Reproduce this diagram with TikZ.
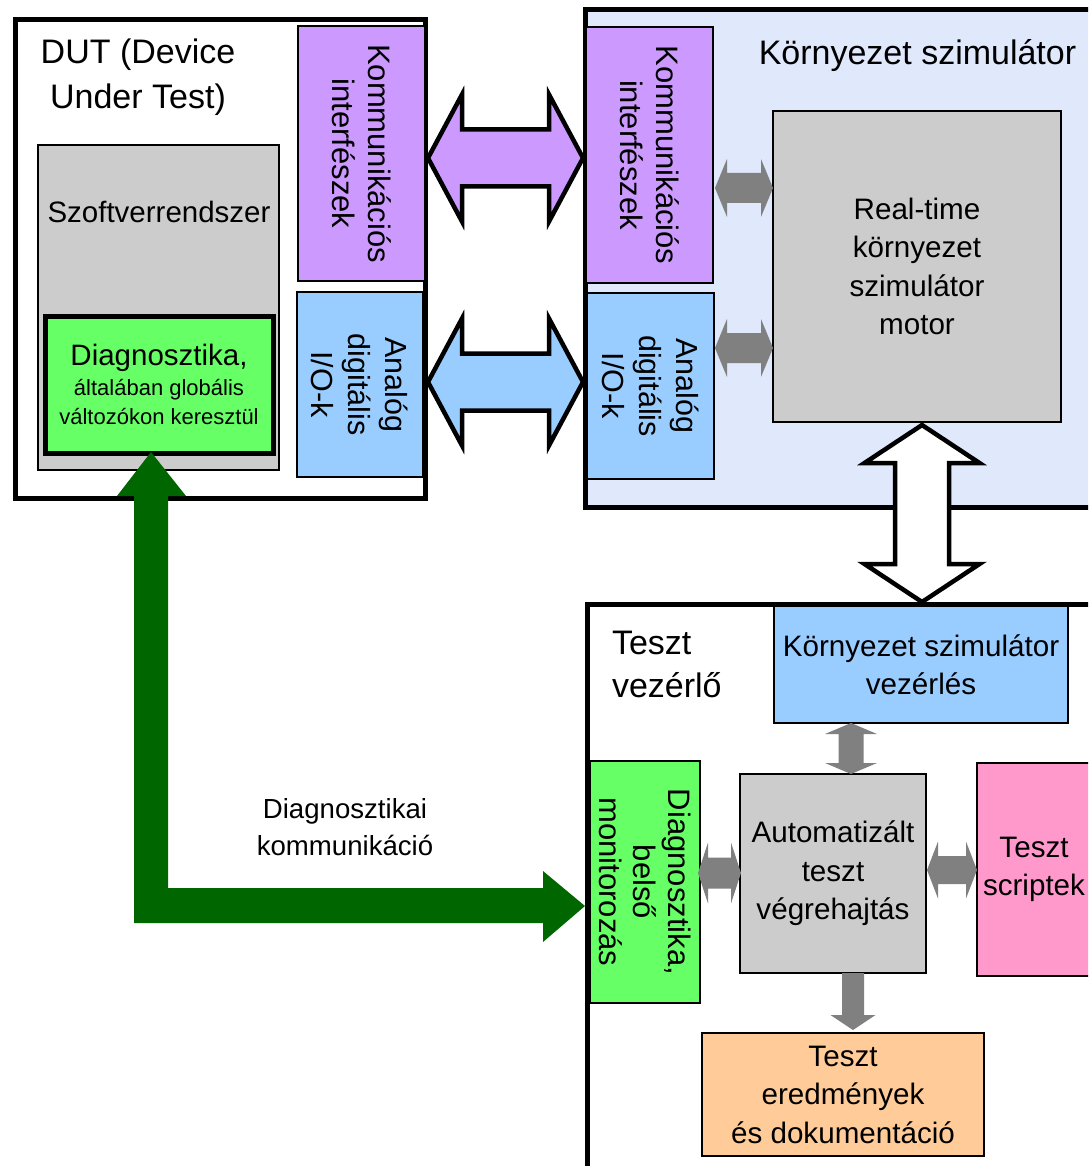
\documentclass[tikz,border=0pt]{standalone}
\usepackage{fontspec}
\setmainfont{Liberation Sans}
\usetikzlibrary{calc}

\definecolor{purp}{HTML}{CC99FF}
\definecolor{skyb}{HTML}{99CCFF}
\definecolor{lgreen}{HTML}{66FF66}
\definecolor{boxgray}{HTML}{CCCCCC}
\definecolor{arrgray}{HTML}{808080}
\definecolor{envbg}{HTML}{E0E8FC}
\definecolor{pinkb}{HTML}{FF99CC}
\definecolor{orangeb}{HTML}{FFCC99}
\definecolor{dgreen}{HTML}{006600}

\newcommand\fsz[2]{\fontsize{#1}{#2}\selectfont}

% fat double-headed arrow from #2 to #3
% #4 head length, #5 head half width, #6 shaft half width
\newcommand\fatdouble[6]{%
  \path[#1] (#2)
    -- ($(#2)!#4!(#3)!#5!90:(#3)$) -- ($(#2)!#4!(#3)!#6!90:(#3)$)
    -- ($(#3)!#4!(#2)!#6!-90:(#2)$) -- ($(#3)!#4!(#2)!#5!-90:(#2)$)
    -- (#3)
    -- ($(#3)!#4!(#2)!#5!90:(#2)$) -- ($(#3)!#4!(#2)!#6!90:(#2)$)
    -- ($(#2)!#4!(#3)!#6!-90:(#3)$) -- ($(#2)!#4!(#3)!#5!-90:(#3)$)
    -- cycle;}
% fat single-headed arrow from tail #2 to tip #3
\newcommand\fatsingle[6]{%
  \path[#1] ($(#2)!#6!90:(#3)$)
    -- ($(#3)!#4!(#2)!#6!-90:(#2)$) -- ($(#3)!#4!(#2)!#5!-90:(#2)$)
    -- (#3)
    -- ($(#3)!#4!(#2)!#5!90:(#2)$) -- ($(#3)!#4!(#2)!#6!90:(#2)$)
    -- ($(#2)!#6!-90:(#3)$) -- cycle;}

\tikzset{
  box/.style={draw=black, line width=2.5pt, outer sep=0pt, inner sep=0pt, align=center,
    font=\fsz{29.6}{38.5}},
  frame/.style={draw=black, line width=5pt, outer sep=0pt, inner sep=0pt},
  vtext/.style={rotate=-90, font=\fsz{31}{36}},
  txt/.style={inner sep=0pt, outer sep=0pt},
  bigarrow/.style={draw=black, line width=4.5pt, line join=miter},
  grayarrow/.style={fill=arrgray},
}

\begin{document}
\begin{tikzpicture}[x=1pt,y=-1pt]
\useasboundingbox (0,0) rectangle (1088,1166);
\clip (0,0) rectangle (1088,1166);

% outer frames
\node[frame, fill=envbg, minimum width=514.5pt, minimum height=498pt] (env) at (842.75,258.5) {};
\node[frame, fill=white, minimum width=410pt, minimum height=478.5pt] (dut) at (220.5,258.75) {};
\node[frame, fill=white, minimum width=512.5pt, minimum height=575.5pt] (tc) at (843.75,892.25) {};

% frame titles
\node[txt, font=\fsz{34}{45}, align=center] (duttitle) at (138,77) {DUT (Device\\Under Test)};
\node[txt, font=\fsz{34}{41}, anchor=base] (envtitle) at (917.5,65) {Környezet szimulátor};
\node[txt, font=\fsz{34}{43}, align=left, anchor=west] (tctitle) at (612,664) {Teszt\\vezérlő};

% device under test
\node[box, line width=2pt, fill=boxgray, minimum width=241pt, minimum height=325pt] (sw) at (158.5,307.5) {};
\node[txt, font=\fsz{29.5}{35}, anchor=base] (swlabel) at (159,223) {Szoftverrendszer};
\node[box, line width=5pt, fill=lgreen, minimum width=228pt, minimum height=137pt, font=\fsz{22}{28.5}] (diag) at (159,384.5)
  {{\fsz{29.5}{29.5}Diagnosztika,}\\[1.5pt]általában globális\\változókon keresztül};
\node[box, vtext, fill=purp, minimum width=255pt, minimum height=127pt] (dutcomm) at (361.5,153.5) {Kommunikációs\\interfészek};
\node[box, vtext, fill=skyb, minimum width=185pt, minimum height=126pt, font=\fsz{30.5}{37}] (dutio) at (360,384.5) {Analóg\\digitális\\I/O-k};

% environment simulator
\node[box, vtext, fill=purp, minimum width=256pt, minimum height=127pt] (envcomm) at (649.5,155) {Kommunikációs\\interfészek};
\node[box, vtext, fill=skyb, minimum width=186pt, minimum height=127pt, font=\fsz{30.5}{37}] (envio) at (650.5,386) {Analóg\\digitális\\I/O-k};
\node[box, fill=boxgray, minimum width=288pt, minimum height=311pt] (rt) at (917,266.5) {Real-time\\környezet\\szimulátor\\motor};

% test controller
\node[box, fill=skyb, minimum width=294pt, minimum height=117pt] (vez) at (921,664.5) {Környezet szimulátor\\vezérlés};
\node[box, fill=boxgray, minimum width=186pt, minimum height=199pt] (auto) at (833,873.5) {Automatizált\\teszt\\végrehajtás};
\node[box, vtext, fill=lgreen, minimum width=242pt, minimum height=110pt, font=\fsz{31}{34.5}] (diagmon) at (645,882) {Diagnosztika,\\belső\\monitorozás};
\node[box, fill=pinkb, minimum width=114pt, minimum height=213pt] (scripts) at (1034,869.5) {Teszt\\scriptek};
\node[box, fill=orangeb, minimum width=282pt, minimum height=123pt] (results) at (843,1094.5) {Teszt\\eredmények\\és dokumentáció};

% arrow end points
\coordinate (pa) at ($(dutcomm.center)+(66.5,4.5)$);
\coordinate (pb) at ($(envcomm.center)+(-66.5,3)$);
\coordinate (ba) at ($(dutio.center)+(68,-2.5)$);
\coordinate (bb) at ($(envio.center)+(-67.5,-4)$);
\coordinate (wa) at ($(rt.south)+(5,3)$);
\coordinate (wb) at ($(vez.north)+(1,-4)$);
\coordinate (g1a) at ($(envcomm.center)+(65.5,33)$);
\coordinate (g1b) at ($(rt.west)+(0,-78.5)$);
\coordinate (g2a) at ($(envio.center)+(64.5,-38)$);
\coordinate (g2b) at ($(rt.west)+(0,81.5)$);
\coordinate (g3a) at ($(vez.south)+(-70,0)$);
\coordinate (g3b) at ($(auto.north)+(18,0)$);
\coordinate (g4a) at ($(diagmon.center)+(53,-9)$);
\coordinate (g4b) at ($(auto.west)+(1,-0.5)$);
\coordinate (g5a) at ($(auto.east)+(1,-3.5)$);
\coordinate (g5b) at ($(scripts.west)+(0,0.5)$);
\coordinate (g6a) at ($(auto.south)+(20,0)$);
\coordinate (g6b) at ($(results.north)+(10,-3)$);
\coordinate (gA) at ($(diag.south)+(-8,-1)$);
\coordinate (gB) at ($(diagmon.center)+(-60,24)$);

% interface arrows between the DUT and the simulator
\fatdouble{fill=purp, bigarrow}{pa}{pb}{34pt}{63.5pt}{28.5pt}
\fatdouble{fill=skyb, bigarrow}{ba}{bb}{34pt}{63.5pt}{28.5pt}
\fatdouble{fill=white, bigarrow}{wa}{wb}{38pt}{57.5pt}{27pt}

% internal data flows
\fatdouble{grayarrow}{g1a}{g1b}{12pt}{29pt}{15pt}
\fatdouble{grayarrow}{g2a}{g2b}{12pt}{29pt}{15pt}
\fatdouble{grayarrow}{g3a}{g3b}{11pt}{26pt}{12.5pt}
\fatdouble{grayarrow}{g4a}{g4b}{10pt}{30.5pt}{15.5pt}
\fatdouble{grayarrow}{g5a}{g5b}{11pt}{28.5pt}{14pt}
\fatsingle{grayarrow}{g6a}{g6b}{15pt}{22.5pt}{11pt}

% diagnostic communication path
\fill[dgreen] let \p1=(gA), \p2=(gB) in
  (\p1) -- (\x1+35pt,\y1-44pt) -- (\x1+17pt,\y1-44pt) -- (\x1+17pt,\y2+18pt)
  -- (\x2-42pt,\y2+18pt) -- (\x2-42pt,\y2+35pt) -- (\p2) -- (\x2-42pt,\y2-36pt)
  -- (\x2-42pt,\y2-17pt) -- (\x1-17pt,\y2-17pt) -- (\x1-17pt,\y1-44pt)
  -- (\x1-34pt,\y1-44pt) -- cycle;
\node[txt, font=\fsz{27.6}{37.7}, align=center] (diaglabel) at (345,827) {Diagnosztikai\\kommunikáció};

\end{tikzpicture}
\end{document}
